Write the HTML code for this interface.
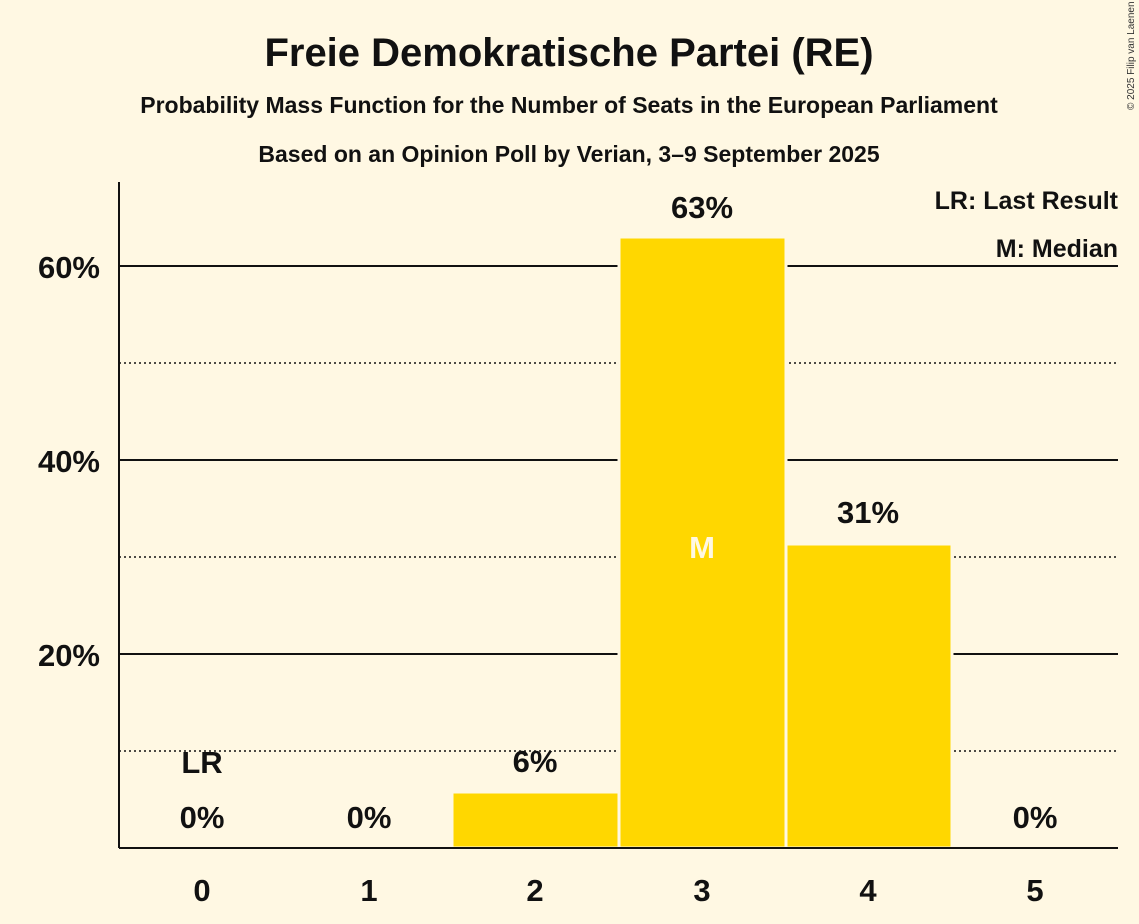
<!DOCTYPE html>
<html><head><style>
body{margin:0;background:#fff8e3;}
svg{display:block;font-family:"Liberation Sans",sans-serif;}
</style></head><body>
<svg width="1139" height="924" viewBox="0 0 1139 924">
<rect width="1139" height="924" fill="#fff8e3"/>
<text x="569" y="66" text-anchor="middle" font-size="40" font-weight="bold" fill="#111">Freie Demokratische Partei (RE)</text>
<text x="569" y="113" text-anchor="middle" font-size="23" font-weight="bold" fill="#111">Probability Mass Function for the Number of Seats in the European Parliament</text>
<text x="569" y="162" text-anchor="middle" font-size="23" font-weight="bold" fill="#111">Based on an Opinion Poll by Verian, 3–9 September 2025</text>
<text x="1134" y="110" font-size="10" fill="#333" transform="rotate(-90 1134 110)">© 2025 Filip van Laenen</text>
<g stroke="#111" stroke-width="1.5" stroke-dasharray="2,3">
<line x1="119" x2="1118" y1="751" y2="751"/><line x1="119" x2="1118" y1="557" y2="557"/><line x1="119" x2="1118" y1="363" y2="363"/>
</g>
<g stroke="#111" stroke-width="2">
<line x1="119" x2="1118" y1="654" y2="654"/><line x1="119" x2="1118" y1="460" y2="460"/><line x1="119" x2="1118" y1="266" y2="266"/>
</g>
<g fill="#ffd700" stroke="#fff8e3" stroke-width="3">
<rect x="452" y="792" width="167" height="56"/>
<rect x="619" y="237" width="167" height="611"/>
<rect x="786" y="544" width="166" height="304"/>
</g>
<line x1="119" x2="119" y1="182" y2="848" stroke="#111" stroke-width="2"/>
<line x1="119" x2="1118" y1="848" y2="848" stroke="#111" stroke-width="2"/>
<g font-size="31" font-weight="bold" fill="#111" text-anchor="end">
<text x="100" y="666">20%</text><text x="100" y="472">40%</text><text x="100" y="278">60%</text>
</g>
<g font-size="31" font-weight="bold" fill="#111" text-anchor="middle">
<text x="202" y="901">0</text><text x="369" y="901">1</text><text x="535" y="901">2</text><text x="702" y="901">3</text><text x="868" y="901">4</text><text x="1035" y="901">5</text>
<text x="202" y="828">0%</text><text x="369" y="828">0%</text><text x="535" y="772">6%</text><text x="702" y="218">63%</text><text x="868" y="523">31%</text><text x="1035" y="828">0%</text>
<text x="202" y="773">LR</text>
<text x="702" y="558" fill="#fff8e3">M</text>
</g>
<g font-size="25" font-weight="bold" fill="#111" text-anchor="end">
<text x="1118" y="209">LR: Last Result</text><text x="1118" y="257">M: Median</text>
</g>
</svg>
</body></html>
